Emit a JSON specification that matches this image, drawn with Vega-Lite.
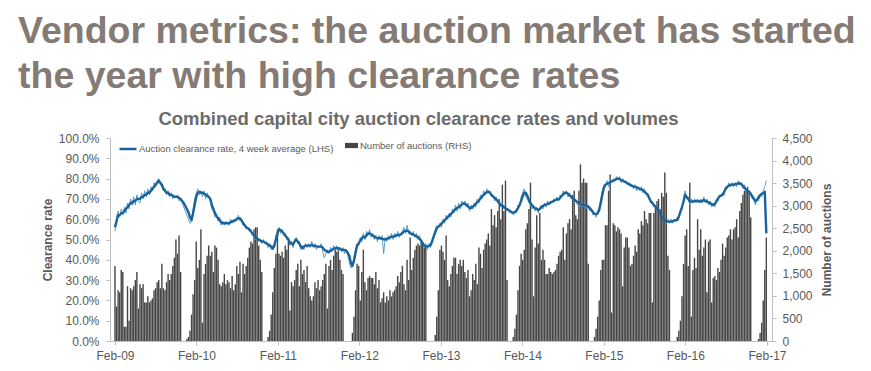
{
"$schema": "https://vega.github.io/schema/vega-lite/v6.json",
"width": 662,
"height": 203,
"autosize": {"type": "none"},
"padding": {"left": 110, "top": 138, "right": 99, "bottom": 30},
"background": "white",
"title": {"text": ["Vendor metrics: the auction market has started", "the year with high clearance rates"], "anchor": "start", "frame": "group", "dx": -92, "fontSize": 37.5, "font": "Liberation Sans", "fontWeight": "bold", "color": "#857b74", "lineHeight": 45, "offset": 14, "limit": 1000},
"config": {"view": {"stroke": null}, "axis": {"labelFont": "Liberation Sans", "titleFont": "Liberation Sans"}, "legend": {"labelFont": "Liberation Sans"}},
"data": {"values": [
{"week":"2009-02-01","auctions":1665,"rate":54,"avg4":56},
{"week":"2009-02-08","auctions":765,"rate":61,"avg4":59},
{"week":"2009-02-15","auctions":1125,"rate":64,"avg4":62},
{"week":"2009-02-22","auctions":1080,"rate":61,"avg4":62},
{"week":"2009-03-01","auctions":1575,"rate":65,"avg4":63},
{"week":"2009-03-08","auctions":1530,"rate":62,"avg4":63},
{"week":"2009-03-15","auctions":315,"rate":66,"avg4":64},
{"week":"2009-03-22","auctions":315,"rate":63,"avg4":65},
{"week":"2009-03-29","auctions":1215,"rate":68,"avg4":66},
{"week":"2009-04-05","auctions":450,"rate":65,"avg4":67},
{"week":"2009-04-12","auctions":1170,"rate":70,"avg4":68},
{"week":"2009-04-19","auctions":1125,"rate":67,"avg4":68},
{"week":"2009-04-26","auctions":1215,"rate":71,"avg4":69},
{"week":"2009-05-03","auctions":1350,"rate":67,"avg4":69},
{"week":"2009-05-10","auctions":1530,"rate":72,"avg4":70},
{"week":"2009-05-17","auctions":720,"rate":69,"avg4":70},
{"week":"2009-05-24","auctions":1260,"rate":68,"avg4":70},
{"week":"2009-05-31","auctions":1170,"rate":73,"avg4":71},
{"week":"2009-06-07","auctions":1260,"rate":70,"avg4":71},
{"week":"2009-06-14","auctions":855,"rate":74,"avg4":72},
{"week":"2009-06-21","auctions":855,"rate":71,"avg4":72},
{"week":"2009-06-28","auctions":990,"rate":75,"avg4":73},
{"week":"2009-07-05","auctions":855,"rate":72,"avg4":73},
{"week":"2009-07-12","auctions":900,"rate":76,"avg4":74},
{"week":"2009-07-19","auctions":945,"rate":74,"avg4":75},
{"week":"2009-07-26","auctions":1125,"rate":78,"avg4":76},
{"week":"2009-08-02","auctions":1170,"rate":76,"avg4":77},
{"week":"2009-08-09","auctions":1305,"rate":79,"avg4":78},
{"week":"2009-08-16","auctions":1350,"rate":80,"avg4":79},
{"week":"2009-08-23","auctions":1170,"rate":77,"avg4":78},
{"week":"2009-08-30","auctions":1710,"rate":76,"avg4":77},
{"week":"2009-09-06","auctions":1170,"rate":74,"avg4":75},
{"week":"2009-09-13","auctions":1125,"rate":75,"avg4":74},
{"week":"2009-09-20","auctions":1305,"rate":72,"avg4":73},
{"week":"2009-09-27","auctions":1485,"rate":74,"avg4":73},
{"week":"2009-10-04","auctions":1350,"rate":71,"avg4":72},
{"week":"2009-10-11","auctions":1485,"rate":73,"avg4":72},
{"week":"2009-10-18","auctions":1665,"rate":70,"avg4":71.5},
{"week":"2009-10-25","auctions":1845,"rate":72,"avg4":71},
{"week":"2009-11-01","auctions":2250,"rate":71,"avg4":71},
{"week":"2009-11-08","auctions":1935,"rate":72,"avg4":71},
{"week":"2009-11-15","auctions":2340,"rate":69,"avg4":70.5},
{"week":"2009-11-22","auctions":1530,"rate":70,"avg4":70},
{"week":"2009-11-29","auctions":0,"rate":68,"avg4":69},
{"week":"2009-12-06","auctions":0,"rate":66,"avg4":68},
{"week":"2009-12-13","auctions":0,"rate":64,"avg4":66.5},
{"week":"2009-12-20","auctions":45,"rate":62,"avg4":65},
{"week":"2009-12-27","auctions":90,"rate":60,"avg4":63.5},
{"week":"2010-01-03","auctions":225,"rate":58,"avg4":61},
{"week":"2010-01-10","auctions":585,"rate":59,"avg4":59.5},
{"week":"2010-01-17","auctions":1035,"rate":65,"avg4":63},
{"week":"2010-01-24","auctions":1350,"rate":70,"avg4":67},
{"week":"2010-01-31","auctions":2205,"rate":73,"avg4":71},
{"week":"2010-02-07","auctions":1620,"rate":75,"avg4":73},
{"week":"2010-02-14","auctions":1800,"rate":72,"avg4":73.5},
{"week":"2010-02-21","auctions":2475,"rate":74,"avg4":73},
{"week":"2010-02-28","auctions":405,"rate":71,"avg4":73},
{"week":"2010-03-07","auctions":1485,"rate":74,"avg4":72.5},
{"week":"2010-03-14","auctions":1710,"rate":70,"avg4":72},
{"week":"2010-03-21","auctions":1890,"rate":73,"avg4":71.5},
{"week":"2010-03-28","auctions":2115,"rate":71,"avg4":71},
{"week":"2010-04-04","auctions":1890,"rate":69,"avg4":70},
{"week":"2010-04-11","auctions":1980,"rate":65,"avg4":67},
{"week":"2010-04-18","auctions":1530,"rate":64,"avg4":65},
{"week":"2010-04-25","auctions":2115,"rate":61,"avg4":63},
{"week":"2010-05-02","auctions":2070,"rate":62,"avg4":61.5},
{"week":"2010-05-09","auctions":1800,"rate":59,"avg4":60.5},
{"week":"2010-05-16","auctions":1260,"rate":61,"avg4":59.5},
{"week":"2010-05-23","auctions":1215,"rate":57,"avg4":58.5},
{"week":"2010-05-30","auctions":1305,"rate":59,"avg4":58},
{"week":"2010-06-06","auctions":1485,"rate":57,"avg4":58},
{"week":"2010-06-13","auctions":1260,"rate":59,"avg4":58},
{"week":"2010-06-20","auctions":1350,"rate":58,"avg4":58},
{"week":"2010-06-27","auctions":1305,"rate":57,"avg4":58},
{"week":"2010-07-04","auctions":1170,"rate":60,"avg4":58.5},
{"week":"2010-07-11","auctions":1440,"rate":58,"avg4":59},
{"week":"2010-07-18","auctions":1125,"rate":60,"avg4":59},
{"week":"2010-07-25","auctions":1260,"rate":59,"avg4":59.5},
{"week":"2010-08-01","auctions":1665,"rate":61,"avg4":60},
{"week":"2010-08-08","auctions":1485,"rate":62,"avg4":60.5},
{"week":"2010-08-15","auctions":1755,"rate":59,"avg4":60.5},
{"week":"2010-08-22","auctions":1080,"rate":60,"avg4":59.5},
{"week":"2010-08-29","auctions":1710,"rate":57,"avg4":58},
{"week":"2010-09-05","auctions":1485,"rate":58,"avg4":57},
{"week":"2010-09-12","auctions":1665,"rate":55,"avg4":56},
{"week":"2010-09-19","auctions":1845,"rate":56,"avg4":55.5},
{"week":"2010-09-26","auctions":2070,"rate":54,"avg4":55},
{"week":"2010-10-03","auctions":2205,"rate":55,"avg4":54},
{"week":"2010-10-10","auctions":2160,"rate":52,"avg4":53},
{"week":"2010-10-17","auctions":2475,"rate":53,"avg4":52},
{"week":"2010-10-24","auctions":2520,"rate":50,"avg4":51},
{"week":"2010-10-31","auctions":2520,"rate":51,"avg4":50.5},
{"week":"2010-11-07","auctions":2115,"rate":49,"avg4":50},
{"week":"2010-11-14","auctions":1800,"rate":50,"avg4":49.5},
{"week":"2010-11-21","auctions":1530,"rate":48,"avg4":49},
{"week":"2010-11-28","auctions":0,"rate":50,"avg4":49},
{"week":"2010-12-05","auctions":0,"rate":48,"avg4":48.5},
{"week":"2010-12-12","auctions":0,"rate":49,"avg4":48},
{"week":"2010-12-19","auctions":90,"rate":46,"avg4":47.5},
{"week":"2010-12-26","auctions":225,"rate":48,"avg4":47},
{"week":"2011-01-02","auctions":585,"rate":45,"avg4":46.5},
{"week":"2011-01-09","auctions":1080,"rate":47,"avg4":45.5},
{"week":"2011-01-16","auctions":1620,"rate":46,"avg4":47},
{"week":"2011-01-23","auctions":1935,"rate":52,"avg4":50},
{"week":"2011-01-30","auctions":2475,"rate":51,"avg4":53},
{"week":"2011-02-06","auctions":1935,"rate":56,"avg4":55},
{"week":"2011-02-13","auctions":1890,"rate":53,"avg4":54.5},
{"week":"2011-02-20","auctions":1980,"rate":55,"avg4":54},
{"week":"2011-02-27","auctions":1845,"rate":52,"avg4":53},
{"week":"2011-03-06","auctions":2115,"rate":53,"avg4":52},
{"week":"2011-03-13","auctions":2025,"rate":50,"avg4":51},
{"week":"2011-03-20","auctions":2250,"rate":51,"avg4":50},
{"week":"2011-03-27","auctions":675,"rate":47,"avg4":48.5},
{"week":"2011-04-03","auctions":1305,"rate":49,"avg4":48},
{"week":"2011-04-10","auctions":1215,"rate":46,"avg4":47.5},
{"week":"2011-04-17","auctions":1350,"rate":50,"avg4":49},
{"week":"2011-04-24","auctions":1575,"rate":51,"avg4":50},
{"week":"2011-05-01","auctions":1710,"rate":48,"avg4":49},
{"week":"2011-05-08","auctions":1215,"rate":49,"avg4":48},
{"week":"2011-05-15","auctions":1800,"rate":45,"avg4":46.5},
{"week":"2011-05-22","auctions":1485,"rate":47,"avg4":45.7},
{"week":"2011-05-29","auctions":1575,"rate":45,"avg4":46.5},
{"week":"2011-06-05","auctions":1305,"rate":48,"avg4":47},
{"week":"2011-06-12","auctions":1665,"rate":46,"avg4":47},
{"week":"2011-06-19","auctions":1170,"rate":48,"avg4":47},
{"week":"2011-06-26","auctions":990,"rate":46,"avg4":47},
{"week":"2011-07-03","auctions":900,"rate":49,"avg4":47.3},
{"week":"2011-07-10","auctions":990,"rate":46,"avg4":47},
{"week":"2011-07-17","auctions":1305,"rate":48,"avg4":46.8},
{"week":"2011-07-24","auctions":1170,"rate":45,"avg4":46.6},
{"week":"2011-07-31","auctions":1350,"rate":47,"avg4":46.5},
{"week":"2011-08-07","auctions":1125,"rate":46,"avg4":46.5},
{"week":"2011-08-14","auctions":1215,"rate":48,"avg4":46.5},
{"week":"2011-08-21","auctions":1350,"rate":44,"avg4":46},
{"week":"2011-08-28","auctions":1485,"rate":41,"avg4":45},
{"week":"2011-09-04","auctions":1710,"rate":43,"avg4":44.5},
{"week":"2011-09-11","auctions":720,"rate":45,"avg4":44},
{"week":"2011-09-18","auctions":1665,"rate":43,"avg4":44},
{"week":"2011-09-25","auctions":1800,"rate":46,"avg4":44.5},
{"week":"2011-10-02","auctions":1575,"rate":44,"avg4":45},
{"week":"2011-10-09","auctions":1890,"rate":47,"avg4":45.5},
{"week":"2011-10-16","auctions":2025,"rate":45,"avg4":45.7},
{"week":"2011-10-23","auctions":1980,"rate":47,"avg4":45.7},
{"week":"2011-10-30","auctions":2025,"rate":44,"avg4":45.7},
{"week":"2011-11-06","auctions":1800,"rate":46,"avg4":45.5},
{"week":"2011-11-13","auctions":1575,"rate":44,"avg4":45},
{"week":"2011-11-20","auctions":1485,"rate":46,"avg4":44.8},
{"week":"2011-11-27","auctions":0,"rate":43,"avg4":44.8},
{"week":"2011-12-04","auctions":0,"rate":45,"avg4":44.5},
{"week":"2011-12-11","auctions":0,"rate":42,"avg4":43.5},
{"week":"2011-12-18","auctions":0,"rate":39,"avg4":42},
{"week":"2011-12-25","auctions":0,"rate":36,"avg4":38.5},
{"week":"2012-01-01","auctions":180,"rate":38,"avg4":37},
{"week":"2012-01-08","auctions":540,"rate":41,"avg4":39.5},
{"week":"2012-01-15","auctions":1125,"rate":45,"avg4":43.5},
{"week":"2012-01-22","auctions":1710,"rate":48,"avg4":47},
{"week":"2012-01-29","auctions":1665,"rate":47,"avg4":48},
{"week":"2012-02-05","auctions":900,"rate":51,"avg4":49.5},
{"week":"2012-02-12","auctions":1530,"rate":49,"avg4":50.5},
{"week":"2012-02-19","auctions":2025,"rate":53,"avg4":51.5},
{"week":"2012-02-26","auctions":1305,"rate":50,"avg4":51},
{"week":"2012-03-04","auctions":1125,"rate":54,"avg4":52},
{"week":"2012-03-11","auctions":1395,"rate":52,"avg4":53},
{"week":"2012-03-18","auctions":1440,"rate":55,"avg4":53},
{"week":"2012-03-25","auctions":1395,"rate":51,"avg4":52.5},
{"week":"2012-04-01","auctions":1395,"rate":53,"avg4":52},
{"week":"2012-04-08","auctions":1260,"rate":50,"avg4":51.5},
{"week":"2012-04-15","auctions":1530,"rate":52,"avg4":51},
{"week":"2012-04-22","auctions":1170,"rate":49,"avg4":50.6},
{"week":"2012-04-29","auctions":1350,"rate":52,"avg4":50.6},
{"week":"2012-05-06","auctions":855,"rate":50,"avg4":50.6},
{"week":"2012-05-13","auctions":945,"rate":52,"avg4":50.4},
{"week":"2012-05-20","auctions":1080,"rate":43,"avg4":50.1},
{"week":"2012-05-27","auctions":855,"rate":51,"avg4":50},
{"week":"2012-06-03","auctions":990,"rate":49,"avg4":50.3},
{"week":"2012-06-10","auctions":900,"rate":52,"avg4":50.6},
{"week":"2012-06-17","auctions":1125,"rate":50,"avg4":51},
{"week":"2012-06-24","auctions":990,"rate":53,"avg4":51.4},
{"week":"2012-07-01","auctions":1080,"rate":50,"avg4":51.4},
{"week":"2012-07-08","auctions":1125,"rate":53,"avg4":51.6},
{"week":"2012-07-15","auctions":1215,"rate":51,"avg4":52},
{"week":"2012-07-22","auctions":1440,"rate":54,"avg4":52.2},
{"week":"2012-07-29","auctions":1305,"rate":51,"avg4":52.2},
{"week":"2012-08-05","auctions":1530,"rate":53,"avg4":52.5},
{"week":"2012-08-12","auctions":1665,"rate":54,"avg4":53.2},
{"week":"2012-08-19","auctions":1260,"rate":56,"avg4":54},
{"week":"2012-08-26","auctions":1125,"rate":53,"avg4":54.2},
{"week":"2012-09-02","auctions":1800,"rate":57,"avg4":54.4},
{"week":"2012-09-09","auctions":1350,"rate":53,"avg4":54},
{"week":"2012-09-16","auctions":2295,"rate":54,"avg4":53},
{"week":"2012-09-23","auctions":1575,"rate":52,"avg4":52.8},
{"week":"2012-09-30","auctions":1845,"rate":54,"avg4":52.4},
{"week":"2012-10-07","auctions":2025,"rate":51,"avg4":52},
{"week":"2012-10-14","auctions":2115,"rate":53,"avg4":51.6},
{"week":"2012-10-21","auctions":2160,"rate":50,"avg4":51},
{"week":"2012-10-28","auctions":2115,"rate":52,"avg4":50.3},
{"week":"2012-11-04","auctions":2205,"rate":48,"avg4":49.5},
{"week":"2012-11-11","auctions":2160,"rate":49,"avg4":48},
{"week":"2012-11-18","auctions":2070,"rate":46,"avg4":47},
{"week":"2012-11-25","auctions":2115,"rate":48,"avg4":46.7},
{"week":"2012-12-02","auctions":0,"rate":45,"avg4":46.5},
{"week":"2012-12-09","auctions":0,"rate":48,"avg4":46.8},
{"week":"2012-12-16","auctions":0,"rate":46,"avg4":47.3},
{"week":"2012-12-23","auctions":0,"rate":50,"avg4":49},
{"week":"2012-12-30","auctions":0,"rate":52,"avg4":51.4},
{"week":"2013-01-06","auctions":135,"rate":55,"avg4":53.5},
{"week":"2013-01-13","auctions":540,"rate":57,"avg4":55.5},
{"week":"2013-01-20","auctions":1125,"rate":56,"avg4":56.3},
{"week":"2013-01-27","auctions":2025,"rate":58,"avg4":57},
{"week":"2013-02-03","auctions":2115,"rate":56,"avg4":57.8},
{"week":"2013-02-10","auctions":1980,"rate":60,"avg4":58.6},
{"week":"2013-02-17","auctions":1800,"rate":58,"avg4":59.5},
{"week":"2013-02-24","auctions":2340,"rate":62,"avg4":60.2},
{"week":"2013-03-03","auctions":1350,"rate":60,"avg4":61},
{"week":"2013-03-10","auctions":1215,"rate":63,"avg4":61.8},
{"week":"2013-03-17","auctions":1485,"rate":61,"avg4":62.5},
{"week":"2013-03-24","auctions":1665,"rate":65,"avg4":63.3},
{"week":"2013-03-31","auctions":1845,"rate":63,"avg4":64.2},
{"week":"2013-04-07","auctions":1845,"rate":67,"avg4":65},
{"week":"2013-04-14","auctions":1485,"rate":64,"avg4":65.5},
{"week":"2013-04-21","auctions":1710,"rate":68,"avg4":66},
{"week":"2013-04-28","auctions":1800,"rate":65,"avg4":66.5},
{"week":"2013-05-05","auctions":1665,"rate":69,"avg4":67.2},
{"week":"2013-05-12","auctions":1800,"rate":67,"avg4":67.8},
{"week":"2013-05-19","auctions":1530,"rate":69,"avg4":67.6},
{"week":"2013-05-26","auctions":1395,"rate":66,"avg4":67},
{"week":"2013-06-02","auctions":1575,"rate":68,"avg4":66.3},
{"week":"2013-06-09","auctions":990,"rate":64,"avg4":65.5},
{"week":"2013-06-16","auctions":1125,"rate":67,"avg4":65.5},
{"week":"2013-06-23","auctions":1485,"rate":65,"avg4":66},
{"week":"2013-06-30","auctions":1350,"rate":68,"avg4":66.8},
{"week":"2013-07-07","auctions":1710,"rate":66,"avg4":67.6},
{"week":"2013-07-14","auctions":1260,"rate":70,"avg4":68.5},
{"week":"2013-07-21","auctions":2070,"rate":68,"avg4":69.2},
{"week":"2013-07-28","auctions":1935,"rate":72,"avg4":70.2},
{"week":"2013-08-04","auctions":1620,"rate":70,"avg4":71.2},
{"week":"2013-08-11","auctions":2025,"rate":74,"avg4":72},
{"week":"2013-08-18","auctions":2160,"rate":72,"avg4":72.8},
{"week":"2013-08-25","auctions":2250,"rate":75,"avg4":73.2},
{"week":"2013-09-01","auctions":2385,"rate":73,"avg4":73.6},
{"week":"2013-09-08","auctions":2115,"rate":74,"avg4":73},
{"week":"2013-09-15","auctions":2925,"rate":71,"avg4":72},
{"week":"2013-09-22","auctions":2565,"rate":72,"avg4":71.2},
{"week":"2013-09-29","auctions":2790,"rate":69,"avg4":70.5},
{"week":"2013-10-06","auctions":2520,"rate":71,"avg4":69.8},
{"week":"2013-10-13","auctions":2880,"rate":68,"avg4":69},
{"week":"2013-10-20","auctions":3150,"rate":69,"avg4":68},
{"week":"2013-10-27","auctions":2700,"rate":66,"avg4":67.2},
{"week":"2013-11-03","auctions":3465,"rate":68,"avg4":66.6},
{"week":"2013-11-10","auctions":2880,"rate":65,"avg4":66},
{"week":"2013-11-17","auctions":3555,"rate":66,"avg4":65.4},
{"week":"2013-11-24","auctions":1350,"rate":64,"avg4":65},
{"week":"2013-12-01","auctions":0,"rate":65,"avg4":64.4},
{"week":"2013-12-08","auctions":0,"rate":63,"avg4":64},
{"week":"2013-12-15","auctions":0,"rate":64,"avg4":63.4},
{"week":"2013-12-22","auctions":90,"rate":62,"avg4":63.2},
{"week":"2013-12-29","auctions":270,"rate":64,"avg4":63.5},
{"week":"2014-01-05","auctions":585,"rate":63,"avg4":64.2},
{"week":"2014-01-12","auctions":1125,"rate":67,"avg4":65.5},
{"week":"2014-01-19","auctions":1665,"rate":66,"avg4":67},
{"week":"2014-01-26","auctions":1935,"rate":71,"avg4":69},
{"week":"2014-02-02","auctions":1800,"rate":73,"avg4":71.2},
{"week":"2014-02-09","auctions":2025,"rate":75,"avg4":73},
{"week":"2014-02-16","auctions":2475,"rate":71,"avg4":73},
{"week":"2014-02-23","auctions":2610,"rate":70,"avg4":71.5},
{"week":"2014-03-02","auctions":2925,"rate":68,"avg4":69.5},
{"week":"2014-03-09","auctions":3510,"rate":67,"avg4":68},
{"week":"2014-03-16","auctions":2250,"rate":65,"avg4":66.8},
{"week":"2014-03-23","auctions":990,"rate":67,"avg4":66},
{"week":"2014-03-30","auctions":2070,"rate":64,"avg4":65.3},
{"week":"2014-04-06","auctions":2790,"rate":66,"avg4":65},
{"week":"2014-04-13","auctions":2160,"rate":63,"avg4":64.5},
{"week":"2014-04-20","auctions":2835,"rate":66,"avg4":65},
{"week":"2014-04-27","auctions":1800,"rate":67,"avg4":66},
{"week":"2014-05-04","auctions":2025,"rate":65,"avg4":66.5},
{"week":"2014-05-11","auctions":1800,"rate":68,"avg4":67},
{"week":"2014-05-18","auctions":1485,"rate":66,"avg4":67.2},
{"week":"2014-05-25","auctions":1485,"rate":69,"avg4":67.5},
{"week":"2014-06-01","auctions":1620,"rate":67,"avg4":67.8},
{"week":"2014-06-08","auctions":1530,"rate":69,"avg4":68.2},
{"week":"2014-06-15","auctions":1485,"rate":68,"avg4":68.7},
{"week":"2014-06-22","auctions":1530,"rate":70,"avg4":69},
{"week":"2014-06-29","auctions":1575,"rate":69,"avg4":69.5},
{"week":"2014-07-06","auctions":1710,"rate":71,"avg4":69.7},
{"week":"2014-07-13","auctions":1890,"rate":69,"avg4":69.8},
{"week":"2014-07-20","auctions":1980,"rate":72,"avg4":70.5},
{"week":"2014-07-27","auctions":2025,"rate":71,"avg4":71.5},
{"week":"2014-08-03","auctions":2520,"rate":74,"avg4":72.3},
{"week":"2014-08-10","auctions":1800,"rate":72,"avg4":73},
{"week":"2014-08-17","auctions":2385,"rate":74,"avg4":73},
{"week":"2014-08-24","auctions":2610,"rate":71,"avg4":72.5},
{"week":"2014-08-31","auctions":2700,"rate":73,"avg4":71.8},
{"week":"2014-09-07","auctions":2475,"rate":70,"avg4":71.2},
{"week":"2014-09-14","auctions":3240,"rate":71,"avg4":70.3},
{"week":"2014-09-21","auctions":3330,"rate":68,"avg4":69.6},
{"week":"2014-09-28","auctions":2790,"rate":70,"avg4":69},
{"week":"2014-10-05","auctions":2700,"rate":67,"avg4":68.5},
{"week":"2014-10-12","auctions":3330,"rate":69,"avg4":68.2},
{"week":"2014-10-19","auctions":3915,"rate":66,"avg4":67.6},
{"week":"2014-10-26","auctions":3510,"rate":68,"avg4":67},
{"week":"2014-11-02","auctions":3600,"rate":66,"avg4":67},
{"week":"2014-11-09","auctions":3510,"rate":68,"avg4":67},
{"week":"2014-11-16","auctions":3510,"rate":65,"avg4":66.6},
{"week":"2014-11-23","auctions":1710,"rate":67,"avg4":66.2},
{"week":"2014-11-30","auctions":0,"rate":64,"avg4":65.5},
{"week":"2014-12-07","auctions":0,"rate":65,"avg4":64.5},
{"week":"2014-12-14","auctions":0,"rate":62,"avg4":63.5},
{"week":"2014-12-21","auctions":90,"rate":63,"avg4":62.6},
{"week":"2014-12-28","auctions":270,"rate":61,"avg4":62.5},
{"week":"2015-01-04","auctions":540,"rate":64,"avg4":62.9},
{"week":"2015-01-11","auctions":900,"rate":66,"avg4":64.5},
{"week":"2015-01-18","auctions":1575,"rate":70,"avg4":68},
{"week":"2015-01-25","auctions":1800,"rate":74,"avg4":72},
{"week":"2015-02-01","auctions":1800,"rate":77,"avg4":75.5},
{"week":"2015-02-08","auctions":2565,"rate":76,"avg4":77},
{"week":"2015-02-15","auctions":2565,"rate":79,"avg4":77.5},
{"week":"2015-02-22","auctions":3330,"rate":76,"avg4":77.8},
{"week":"2015-03-01","auctions":3690,"rate":80,"avg4":78.2},
{"week":"2015-03-08","auctions":630,"rate":78,"avg4":78.6},
{"week":"2015-03-15","auctions":2610,"rate":80,"avg4":79},
{"week":"2015-03-22","auctions":2565,"rate":79,"avg4":79.3},
{"week":"2015-03-29","auctions":2430,"rate":81,"avg4":79.8},
{"week":"2015-04-05","auctions":2520,"rate":80,"avg4":80},
{"week":"2015-04-12","auctions":2475,"rate":81,"avg4":79.8},
{"week":"2015-04-19","auctions":2385,"rate":78,"avg4":79.3},
{"week":"2015-04-26","auctions":1215,"rate":80,"avg4":79},
{"week":"2015-05-03","auctions":2070,"rate":78,"avg4":78.6},
{"week":"2015-05-10","auctions":2295,"rate":79,"avg4":78.2},
{"week":"2015-05-17","auctions":2295,"rate":77,"avg4":77.7},
{"week":"2015-05-24","auctions":2070,"rate":78,"avg4":77.3},
{"week":"2015-05-31","auctions":1665,"rate":76,"avg4":76.9},
{"week":"2015-06-07","auctions":1710,"rate":77,"avg4":76.5},
{"week":"2015-06-14","auctions":1890,"rate":75,"avg4":76.1},
{"week":"2015-06-21","auctions":2115,"rate":77,"avg4":75.9},
{"week":"2015-06-28","auctions":1980,"rate":74,"avg4":75.7},
{"week":"2015-07-05","auctions":2475,"rate":76,"avg4":75.3},
{"week":"2015-07-12","auctions":2385,"rate":74,"avg4":75},
{"week":"2015-07-19","auctions":2655,"rate":76,"avg4":74.7},
{"week":"2015-07-26","auctions":2565,"rate":73,"avg4":74.2},
{"week":"2015-08-02","auctions":2880,"rate":75,"avg4":73.6},
{"week":"2015-08-09","auctions":2700,"rate":72,"avg4":72.8},
{"week":"2015-08-16","auctions":2610,"rate":73,"avg4":72},
{"week":"2015-08-23","auctions":2835,"rate":70,"avg4":70.5},
{"week":"2015-08-30","auctions":2835,"rate":68,"avg4":68.8},
{"week":"2015-09-06","auctions":855,"rate":69,"avg4":68},
{"week":"2015-09-13","auctions":2835,"rate":66,"avg4":67},
{"week":"2015-09-20","auctions":2970,"rate":67,"avg4":66.2},
{"week":"2015-09-27","auctions":3105,"rate":64,"avg4":65.3},
{"week":"2015-10-04","auctions":3150,"rate":65,"avg4":64},
{"week":"2015-10-11","auctions":2925,"rate":62,"avg4":63},
{"week":"2015-10-18","auctions":3285,"rate":62,"avg4":61},
{"week":"2015-10-25","auctions":3195,"rate":59,"avg4":59.8},
{"week":"2015-11-01","auctions":3735,"rate":60,"avg4":59.3},
{"week":"2015-11-08","auctions":3285,"rate":58,"avg4":58.9},
{"week":"2015-11-15","auctions":1890,"rate":60,"avg4":58.8},
{"week":"2015-11-22","auctions":1575,"rate":58,"avg4":58.8},
{"week":"2015-11-29","auctions":0,"rate":60,"avg4":58.8},
{"week":"2015-12-06","auctions":0,"rate":58,"avg4":59},
{"week":"2015-12-13","auctions":0,"rate":60,"avg4":59.3},
{"week":"2015-12-20","auctions":0,"rate":59,"avg4":59.5},
{"week":"2015-12-27","auctions":90,"rate":61,"avg4":59.6},
{"week":"2016-01-03","auctions":225,"rate":60,"avg4":61.5},
{"week":"2016-01-10","auctions":450,"rate":63,"avg4":63.7},
{"week":"2016-01-17","auctions":990,"rate":65,"avg4":66},
{"week":"2016-01-24","auctions":1710,"rate":70,"avg4":68.7},
{"week":"2016-01-31","auctions":2340,"rate":74,"avg4":72},
{"week":"2016-02-07","auctions":2475,"rate":70,"avg4":71},
{"week":"2016-02-14","auctions":1665,"rate":71,"avg4":70},
{"week":"2016-02-21","auctions":3510,"rate":67,"avg4":68.8},
{"week":"2016-02-28","auctions":540,"rate":70,"avg4":68.7},
{"week":"2016-03-06","auctions":1575,"rate":68,"avg4":68.7},
{"week":"2016-03-13","auctions":1845,"rate":70,"avg4":68.9},
{"week":"2016-03-20","auctions":1620,"rate":68,"avg4":69},
{"week":"2016-03-27","auctions":2700,"rate":70,"avg4":69},
{"week":"2016-04-03","auctions":2025,"rate":68,"avg4":68.8},
{"week":"2016-04-10","auctions":2475,"rate":70,"avg4":68.7},
{"week":"2016-04-17","auctions":1890,"rate":68,"avg4":69},
{"week":"2016-04-24","auctions":2070,"rate":71,"avg4":69.5},
{"week":"2016-05-01","auctions":2250,"rate":68,"avg4":69},
{"week":"2016-05-08","auctions":1080,"rate":70,"avg4":68.7},
{"week":"2016-05-15","auctions":2205,"rate":67,"avg4":68.3},
{"week":"2016-05-22","auctions":2250,"rate":69,"avg4":67.8},
{"week":"2016-05-29","auctions":855,"rate":66,"avg4":67.4},
{"week":"2016-06-05","auctions":1395,"rate":68,"avg4":67},
{"week":"2016-06-12","auctions":1440,"rate":66,"avg4":67.5},
{"week":"2016-06-19","auctions":1350,"rate":70,"avg4":68.7},
{"week":"2016-06-26","auctions":1620,"rate":69,"avg4":70},
{"week":"2016-07-03","auctions":1530,"rate":72,"avg4":71.2},
{"week":"2016-07-10","auctions":1800,"rate":71,"avg4":71.6},
{"week":"2016-07-17","auctions":2160,"rate":73,"avg4":72},
{"week":"2016-07-24","auctions":1890,"rate":72,"avg4":73.5},
{"week":"2016-07-31","auctions":2070,"rate":76,"avg4":75},
{"week":"2016-08-07","auctions":2295,"rate":75,"avg4":76},
{"week":"2016-08-14","auctions":2340,"rate":78,"avg4":76.5},
{"week":"2016-08-21","auctions":2475,"rate":76,"avg4":76.9},
{"week":"2016-08-28","auctions":2250,"rate":78,"avg4":77},
{"week":"2016-09-04","auctions":2475,"rate":76,"avg4":77},
{"week":"2016-09-11","auctions":2520,"rate":78,"avg4":77.2},
{"week":"2016-09-18","auctions":2700,"rate":76,"avg4":77.4},
{"week":"2016-09-25","auctions":2295,"rate":79,"avg4":77.6},
{"week":"2016-10-02","auctions":2880,"rate":77,"avg4":77.7},
{"week":"2016-10-09","auctions":3060,"rate":78,"avg4":77.2},
{"week":"2016-10-16","auctions":3240,"rate":75,"avg4":76.4},
{"week":"2016-10-23","auctions":3330,"rate":77,"avg4":75.5},
{"week":"2016-10-30","auctions":3330,"rate":74,"avg4":74.6},
{"week":"2016-11-06","auctions":3420,"rate":75,"avg4":74},
{"week":"2016-11-13","auctions":3285,"rate":72,"avg4":73.5},
{"week":"2016-11-20","auctions":2745,"rate":73,"avg4":72.5},
{"week":"2016-11-27","auctions":0,"rate":70,"avg4":71.2},
{"week":"2016-12-04","auctions":0,"rate":71,"avg4":70},
{"week":"2016-12-11","auctions":0,"rate":67,"avg4":68.8},
{"week":"2016-12-18","auctions":0,"rate":70,"avg4":69.5},
{"week":"2016-12-25","auctions":45,"rate":69,"avg4":70.8},
{"week":"2017-01-01","auctions":180,"rate":72,"avg4":71.8},
{"week":"2017-01-08","auctions":405,"rate":71,"avg4":72.5},
{"week":"2017-01-15","auctions":900,"rate":74,"avg4":72.8},
{"week":"2017-01-22","auctions":1575,"rate":76,"avg4":73.5},
{"week":"2017-01-29","auctions":2295,"rate":79,"avg4":53}
]},
"layer": [
{
"mark": {"type": "bar", "size": 1.4},
"encoding": {
"x": {"field": "week", "type": "temporal",
"scale": {"type": "utc", "domain": [{"year": 2009, "month": 2, "date": 1, "utc": true}, {"year": 2017, "month": 2, "date": 1, "utc": true}]},
"axis": {"orient": "bottom", "title": null, "values": [{"year": 2009, "month": 2, "date": 1, "utc": true}, {"year": 2010, "month": 2, "date": 1, "utc": true}, {"year": 2011, "month": 2, "date": 1, "utc": true}, {"year": 2012, "month": 2, "date": 1, "utc": true}, {"year": 2013, "month": 2, "date": 1, "utc": true}, {"year": 2014, "month": 2, "date": 1, "utc": true}, {"year": 2015, "month": 2, "date": 1, "utc": true}, {"year": 2016, "month": 2, "date": 1, "utc": true}, {"year": 2017, "month": 2, "date": 1, "utc": true}],
"labelExpr": "utcFormat(datum.value, '%b-%y')", "labelFontSize": 12, "labelColor": "#595959", "tickColor": "#bfbfbf", "tickSize": 4, "domainColor": "#bfbfbf", "labelPadding": 5, "grid": false, "labelFlush": false, "labelOverlap": false}},
"y": {"field": "auctions", "type": "quantitative", "scale": {"domain": [0, 4500], "nice": false},
"axis": {"orient": "right", "values": [0, 500, 1000, 1500, 2000, 2500, 3000, 3500, 4000, 4500], "format": ",.0f", "title": "Number of auctions", "titleX": 58, "titleY": 101.5, "titleAngle": 270, "titleAlign": "center", "titleBaseline": "alphabetic", "titleFontSize": 12, "titleFontWeight": "bold", "titleColor": "#595959", "labelFontSize": 12, "labelColor": "#595959", "tickSize": 4, "tickColor": "#bfbfbf", "domainColor": "#bfbfbf", "labelPadding": 6, "grid": false}},
"fill": {"datum": "Number of auctions (RHS)", "scale": {"range": ["#464646"]},
"legend": {"orient": "none", "legendX": 235, "legendY": 1, "direction": "horizontal", "title": null, "symbolType": "M-1,-0.4H1V0.4H-1Z", "symbolSize": 169, "symbolStrokeWidth": 0, "labelFontSize": 9.5, "labelColor": "#595959", "labelOffset": 2, "labelLimit": 400, "padding": 0}}
}
},
{
"layer": [
{
"mark": {"type": "line", "stroke": "#4d94cf", "strokeWidth": 0.9},
"encoding": {
"x": {"field": "week", "type": "temporal",
"axis": {"orient": "top", "title": "Combined capital city auction clearance rates and volumes", "labels": false, "ticks": false, "domain": false, "grid": false, "titleX": 308, "titleY": -14, "titleFontSize": 18.5, "titleFontWeight": "bold", "titleColor": "#6b6b6b", "titleAlign": "center", "titleBaseline": "alphabetic"}},
"y": {"field": "rate", "type": "quantitative", "scale": {"domain": [0, 100], "nice": false},
"axis": {"orient": "left", "values": [0, 10, 20, 30, 40, 50, 60, 70, 80, 90, 100], "labelExpr": "format(datum.value, '.1f') + '%'", "title": "Clearance rate", "titleX": -58.5, "titleY": 101.5, "titleAngle": 270, "titleAlign": "center", "titleBaseline": "alphabetic", "titleFontSize": 12, "titleFontWeight": "bold", "titleColor": "#595959", "labelFontSize": 12, "labelColor": "#595959", "tickSize": 4, "tickColor": "#bfbfbf", "domainColor": "#bfbfbf", "labelPadding": 7, "grid": false}}
}
},
{
"mark": {"type": "line", "strokeWidth": 2.4, "strokeJoin": "round"},
"encoding": {
"x": {"field": "week", "type": "temporal",
"axis": {"orient": "top", "title": "Combined capital city auction clearance rates and volumes", "labels": false, "ticks": false, "domain": false, "grid": false, "titleX": 308, "titleY": -14, "titleFontSize": 18.5, "titleFontWeight": "bold", "titleColor": "#6b6b6b", "titleAlign": "center", "titleBaseline": "alphabetic"}},
"y": {"field": "avg4", "type": "quantitative", "scale": {"domain": [0, 100], "nice": false},
"axis": {"orient": "left", "values": [0, 10, 20, 30, 40, 50, 60, 70, 80, 90, 100], "labelExpr": "format(datum.value, '.1f') + '%'", "title": "Clearance rate", "titleX": -58.5, "titleY": 101.5, "titleAngle": 270, "titleAlign": "center", "titleBaseline": "alphabetic", "titleFontSize": 12, "titleFontWeight": "bold", "titleColor": "#595959", "labelFontSize": 12, "labelColor": "#595959", "tickSize": 4, "tickColor": "#bfbfbf", "domainColor": "#bfbfbf", "labelPadding": 7, "grid": false}},
"stroke": {"datum": "Auction clearance rate, 4 week average (LHS)", "scale": {"range": ["#1a6399"]},
"legend": {"orient": "none", "legendX": 8, "legendY": 1, "direction": "horizontal", "title": null, "symbolType": "stroke", "symbolSize": 289, "symbolStrokeWidth": 2.5, "labelFontSize": 9.5, "labelColor": "#595959", "labelOffset": 1, "labelLimit": 400, "padding": 0}}
}
}
]
}
],
"resolve": {"scale": {"y": "independent"}, "axis": {"x": "independent"}}
}
